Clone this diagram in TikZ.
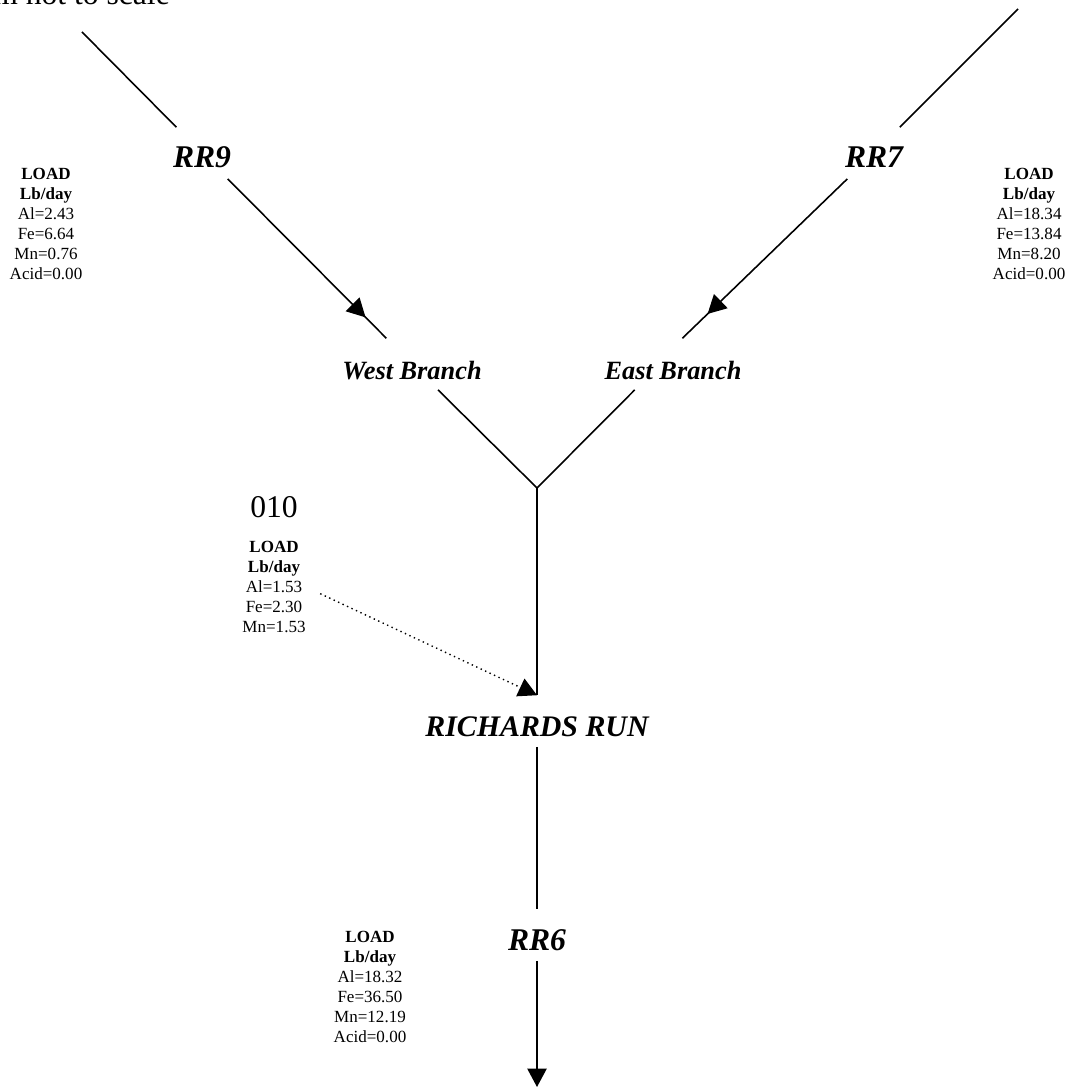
\documentclass[tikz,border=0pt]{standalone}
\usepackage{fontspec}
\setmainfont{Liberation Serif}
\usetikzlibrary{arrows.meta, decorations.markings}

\begin{document}
\begin{tikzpicture}[
    x=0.02cm, y=-0.02cm,
    site/.style={font=\fontsize{18pt}{21pt}\selectfont\bfseries\itshape, inner sep=0pt, text height=23pt, text depth=6pt, anchor=base},
    branch/.style={site, font=\fontsize{15pt}{18pt}\selectfont\bfseries\itshape},
    stream/.style={site, font=\fontsize{17pt}{20pt}\selectfont\bfseries\itshape},
    load/.style={align=center, inner sep=0pt, anchor=north, font=\fontsize{9.7pt}{11.34pt}\selectfont},
    flow/.style={line width=0.9pt},
    midarrow/.style={flow, postaction={decorate}, decoration={markings, mark=at position #1 with {\arrow{Triangle[length=10.5pt,width=11pt]}}}},
    endarrow/.style={flow, -{Triangle[length=10.5pt,width=11pt]}},
    seep/.style={dotted, line width=0.8pt, -{Triangle[length=10.5pt,width=11pt]}, shorten <=9pt}
]
\useasboundingbox (0,0) rectangle (1070,1087);

% Nodes
\node[anchor=base east, font=\fontsize{18pt}{21pt}\selectfont] (note) at (176,5) {m not to scale};
\node[site] (rr9) at (202,168) {RR9};
\node[site] (rr7) at (874,168) {RR7};
\node[branch] (west) at (412,379) {West Branch};
\node[branch] (east) at (673,379) {East Branch};
\node[stream] (rich) at (537,736) {RICHARDS RUN};
\node[site] (rr6) at (537,950) {RR6};
\node[anchor=base, font=\fontsize{18pt}{21pt}\selectfont] (o10) at (274,517) {010};

% Free ends
\coordinate (srcW) at (82,32);
\coordinate (srcE) at (1018,9);
\coordinate (fork) at (537,488);
\coordinate (mouth) at (537,1087);

% Loads
\node[load] (ldRR9) at (46,168) {\textbf{LOAD}\\\textbf{Lb/day}\\Al=2.43\\Fe=6.64\\Mn=0.76\\Acid=0.00};
\node[load] (ldRR7) at (1029,168) {\textbf{LOAD}\\\textbf{Lb/day}\\Al=18.34\\Fe=13.84\\Mn=8.20\\Acid=0.00};
\node[load] (ld010) at (274,541) {\textbf{LOAD}\\\textbf{Lb/day}\\Al=1.53\\Fe=2.30\\Mn=1.53};
\node[load] (ldRR6) at (370,931) {\textbf{LOAD}\\\textbf{Lb/day}\\Al=18.32\\Fe=36.50\\Mn=12.19\\Acid=0.00};

% Arrows
\draw[flow] (srcW) -- (rr9);
\draw[midarrow=0.87] (rr9) -- (west);
\draw[flow] (west) -- (fork);
\draw[flow] (srcE) -- (rr7);
\draw[midarrow=0.85] (rr7) -- (east.70);
\draw[flow] (east.214) -- (fork);
\draw[flow] (fork) -- (rich);
\draw[seep] (ld010.east) -- (rich.north);
\draw[flow] (rich) -- (rr6);
\draw[endarrow] (rr6) -- (mouth);
\end{tikzpicture}
\end{document}
